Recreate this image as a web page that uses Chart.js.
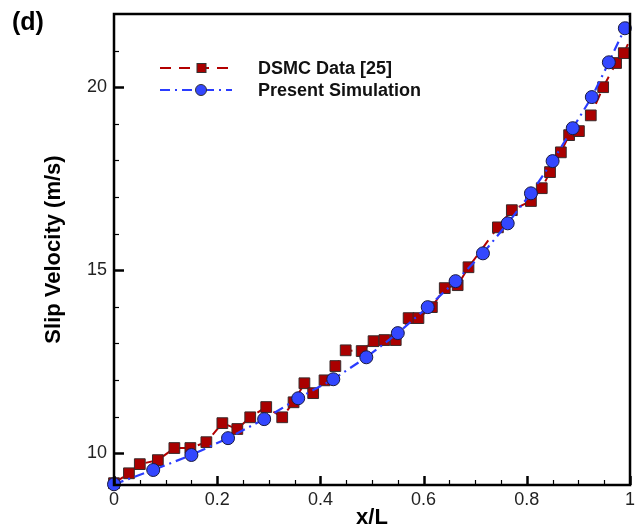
<!DOCTYPE html>
<html>
<head>
<meta charset="utf-8">
<script src="https://cdn.jsdelivr.net/npm/chart.js@4.4.1/dist/chart.umd.min.js"></script>
<style>
  html, body { margin: 0; padding: 0; background: #ffffff; }
  #wrap { width: 642px; height: 531px; position: relative; }
</style>
</head>
<body>
<div id="wrap"><canvas id="c" width="642" height="531"></canvas></div>
<script>
// ---- Data ----
const dsmcX = [0.000, 0.029, 0.050, 0.085, 0.117, 0.148, 0.179, 0.210, 0.239, 0.264,
               0.295, 0.326, 0.348, 0.369, 0.386, 0.408, 0.429, 0.449, 0.480, 0.503,
               0.524, 0.546, 0.571, 0.590, 0.616, 0.641, 0.666, 0.687, 0.744, 0.771,
               0.808, 0.829, 0.845, 0.866, 0.882, 0.901, 0.924, 0.948, 0.973, 0.988, 1.000];
const dsmcY = [9.18, 9.45, 9.70, 9.81, 10.14, 10.14, 10.30, 10.82, 10.66, 10.98,
               11.26, 10.98, 11.39, 11.91, 11.64, 11.99, 12.38, 12.81, 12.79, 13.06,
               13.09, 13.09, 13.69, 13.69, 13.99, 14.51, 14.59, 15.08, 16.17, 16.64,
               16.89, 17.24, 17.68, 18.22, 18.69, 18.80, 19.23, 20.00, 20.66, 20.93, 21.30];
const simX = [0.000, 0.076, 0.150, 0.221, 0.291, 0.357, 0.425, 0.489, 0.550, 0.608,
              0.662, 0.715, 0.763, 0.808, 0.850, 0.889, 0.926, 0.959, 0.990, 1.000];
const simY = [9.15, 9.54, 9.95, 10.41, 10.93, 11.50, 12.02, 12.62, 13.28, 13.99,
              14.70, 15.46, 16.28, 17.10, 17.98, 18.88, 19.73, 20.68, 21.61, 21.95];
const seriesNames = ['DSMC Data [25]', 'Present Simulation'];
const xTickValues = [0, 0.2, 0.4, 0.6, 0.8, 1];
const xTickLabels = ['0', '0.2', '0.4', '0.6', '0.8', '1'];
const xMinorValues = [0.05, 0.1, 0.15, 0.25, 0.3, 0.35, 0.45, 0.5, 0.55, 0.65, 0.7, 0.75, 0.85, 0.9, 0.95];
const yTickValues = [10, 15, 20];
const yTickLabels = ['10', '15', '20'];
const yMinorValues = [11, 12, 13, 14, 16, 17, 18, 19, 21];
const xTitle = 'x/L';
const yTitle = 'Slip Velocity (m/s)';
const panelLabel = '(d)';

// ---- Build datasets ----
const toPts = (xs, ys) => xs.map((x, i) => ({ x: x, y: ys[i] }));
const dsmcRadius = dsmcX.map((x, i) => (i === dsmcX.length - 1 ? 0 : 7.6));
const simRadius = simX.map((x, i) => (i === simX.length - 1 ? 0 : 6.5));

const FONT = "'Liberation Sans', Arial, Helvetica, sans-serif";

const framePlugin = {
  id: 'frameAndDecor',
  afterDraw(chart) {
    const ctx = chart.ctx;
    const a = chart.chartArea;
    const xs = chart.scales.x, ys = chart.scales.y;
    ctx.save();
    ctx.strokeStyle = '#000';
    const tickX = (v, len) => {
      const p = Math.round(xs.getPixelForValue(v)) + 0.5;
      ctx.beginPath(); ctx.moveTo(p, a.bottom); ctx.lineTo(p, a.bottom - len); ctx.stroke();
    };
    const tickY = (v, len) => {
      const p = Math.round(ys.getPixelForValue(v)) + 0.5;
      ctx.beginPath(); ctx.moveTo(a.left, p); ctx.lineTo(a.left + len, p); ctx.stroke();
    };
    ctx.lineWidth = 2.5;
    xTickValues.forEach(v => tickX(v, 9));
    yTickValues.forEach(v => tickY(v, 10));
    ctx.lineWidth = 1.2;
    xMinorValues.forEach(v => tickX(v, 5));
    yMinorValues.forEach(v => tickY(v, 5));
    // frame
    ctx.lineWidth = 2.5;
    ctx.strokeRect(a.left, a.top, a.right - a.left, a.bottom - a.top);
    // panel label
    ctx.fillStyle = '#000';
    ctx.font = 'bold 25px ' + FONT;
    ctx.textBaseline = 'middle';
    ctx.textAlign = 'left';
    ctx.fillText(panelLabel, 12, 23);
    // legend
    const dsets = chart.data.datasets;
    const rows = [68, 90];
    dsets.forEach((ds, i) => {
      const y = rows[i];
      ctx.save();
      ctx.strokeStyle = ds.borderColor;
      ctx.lineWidth = ds.borderWidth;
      ctx.setLineDash(ds.borderDash);
      ctx.beginPath(); ctx.moveTo(160, y); ctx.lineTo(232, y); ctx.stroke();
      ctx.setLineDash([]);
      ctx.fillStyle = ds.pointBackgroundColor;
      ctx.strokeStyle = '#333';
      ctx.lineWidth = 1;
      if (ds.pointStyle === 'rect') {
        ctx.fillRect(197, y - 4.5, 9, 9);
        ctx.strokeRect(197, y - 4.5, 9, 9);
      } else {
        ctx.beginPath(); ctx.arc(201, y, 5.5, 0, Math.PI * 2); ctx.fill(); ctx.stroke();
      }
      ctx.restore();
      ctx.fillStyle = '#111';
      ctx.font = 'bold 18px ' + FONT;
      ctx.textBaseline = 'middle';
      ctx.fillText(ds.label, 258, y + 1);
    });
    ctx.restore();
  }
};

new Chart(document.getElementById('c'), {
  type: 'scatter',
  data: {
    datasets: [
      {
        label: seriesNames[0],
        data: toPts(dsmcX, dsmcY),
        showLine: true,
        borderColor: '#b30000',
        borderWidth: 2,
        borderDash: [11, 8],
        pointStyle: 'rect',
        pointRadius: dsmcRadius,
        pointBackgroundColor: '#aa0000',
        pointBorderColor: '#3a2a2a',
        pointBorderWidth: 1,
        clip: false,
        order: 1
      },
      {
        label: seriesNames[1],
        data: toPts(simX, simY),
        showLine: true,
        borderColor: '#2a3cff',
        borderWidth: 2.2,
        borderDash: [10, 5, 2, 5],
        pointStyle: 'circle',
        pointRadius: simRadius,
        pointBackgroundColor: '#3347ff',
        pointBorderColor: '#1a1a40',
        pointBorderWidth: 1,
        clip: false,
        order: 0
      }
    ]
  },
  options: {
    responsive: false,
    devicePixelRatio: 1,
    animation: false,
    layout: { padding: { top: 14, right: 12, left: 0, bottom: 0 } },
    plugins: { legend: { display: false }, tooltip: { enabled: false } },
    scales: {
      x: {
        type: 'linear', min: 0, max: 1,
        grid: { display: false, drawTicks: false, tickLength: 0 }, border: { display: false },
        afterBuildTicks: s => { s.ticks = xTickValues.map(v => ({ value: v })); },
        afterFit: s => { s.height = 46; s.paddingLeft = 0; s.paddingRight = 0; },
        ticks: {
          autoSkip: false, maxRotation: 0, padding: 4, color: '#222',
          font: { family: FONT, size: 18 },
          callback: (v) => { const i = xTickValues.indexOf(v); return i >= 0 ? xTickLabels[i] : ''; }
        },
        title: { display: true, text: xTitle, color: '#000',
                 font: { family: FONT, size: 22, weight: 'bold' }, padding: { top: 0, bottom: 0 } }
      },
      y: {
        type: 'linear', min: 9.13, max: 22,
        grid: { display: false, drawTicks: false, tickLength: 0 }, border: { display: false },
        afterBuildTicks: s => { s.ticks = yTickValues.map(v => ({ value: v })); },
        afterFit: s => { s.width = 114; s.paddingTop = 0; s.paddingBottom = 0; },
        ticks: {
          autoSkip: false, padding: 7, color: '#222',
          font: { family: FONT, size: 18 },
          callback: (v) => { const i = yTickValues.indexOf(v); return i >= 0 ? yTickLabels[i] : ''; }
        },
        title: { display: true, text: yTitle, color: '#000',
                 font: { family: FONT, size: 22, weight: 'bold' }, padding: { top: 41, bottom: 0 } }
      }
    }
  },
  plugins: [framePlugin]
});
</script>
</body>
</html>
